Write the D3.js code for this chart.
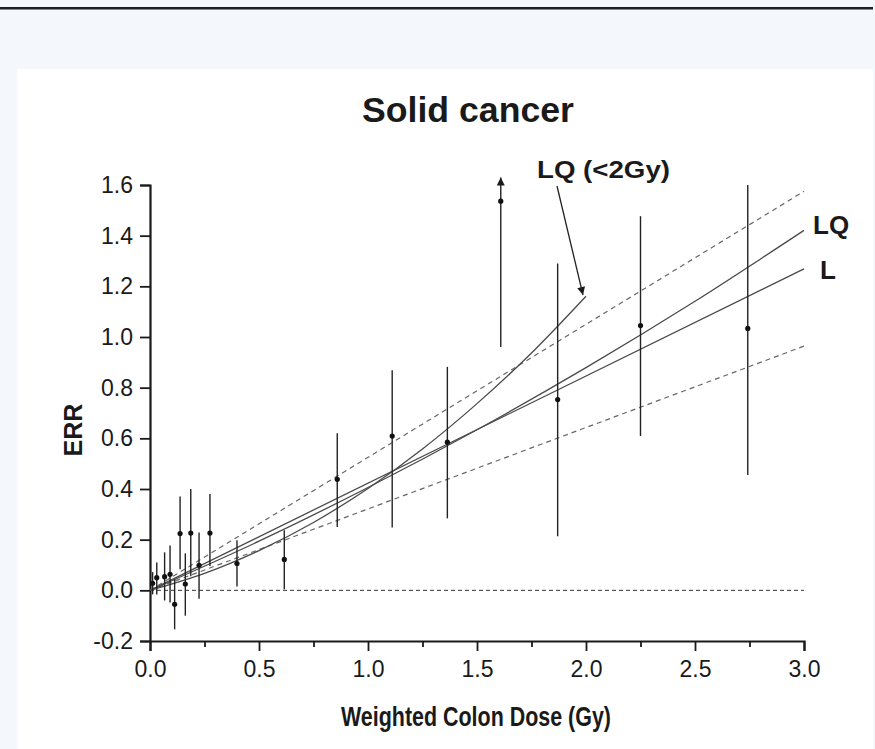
<!DOCTYPE html>
<html>
<head>
<meta charset="utf-8">
<script src="https://cdn.jsdelivr.net/npm/d3@7"></script>
<style>
  body { margin: 0; background: #f4f7fc; }
  text { font-family: "Liberation Sans", Arial, Helvetica, sans-serif; fill: #1a1a1a; }
</style>
</head>
<body>
<div id="plot"></div>
<script>
// binned data: dose (Gy), ERR, lower / upper bound
const dose  = [0.012, 0.031, 0.067, 0.092, 0.113, 0.138, 0.162, 0.187, 0.225, 0.275, 0.399, 0.616, 0.859, 1.111, 1.364, 1.609, 1.870, 2.250, 2.742];
const err   = [0.028, 0.050, 0.054, 0.063, -0.055, 0.224, 0.025, 0.226, 0.099, 0.226, 0.106, 0.122, 0.438, 0.609, 0.585, 1.536, 0.753, 1.045, 1.034];
const lower = [-0.016, -0.016, -0.040, -0.048, -0.154, 0.083, -0.100, 0.056, -0.033, 0.096, 0.015, 0.004, 0.250, 0.248, 0.284, 0.961, 0.213, 0.609, 0.455];
const upper = [0.072, 0.110, 0.150, 0.177, 0.043, 0.370, 0.146, 0.400, 0.228, 0.380, 0.198, 0.237, 0.620, 0.869, 0.882, 1.630, 1.290, 1.477, 1.600];

// fitted curves
const lDose  = [0, 3];
const lErr   = [0, 1.269];
const lqDose = [0, 0.5, 1.0, 1.5, 2.0, 2.5, 3.0];
const lqErr  = [0, 0.194, 0.406, 0.634, 0.879, 1.141, 1.421];
const lq2Dose = [0, 0.25, 0.5, 0.75, 1.0, 1.25, 1.5, 1.75, 2.0];
const lq2Err  = [0, 0.067, 0.157, 0.268, 0.402, 0.558, 0.737, 0.937, 1.161];
const ciDose  = [0, 3];
const ciUpper = [0, 1.575];
const ciLower = [0, 0.964];

const xTicks = [0, 0.5, 1.0, 1.5, 2.0, 2.5, 3.0];
const xMinor = [0.25, 0.75, 1.25, 1.75, 2.25, 2.75];
const yTicks = [-0.2, 0, 0.2, 0.4, 0.6, 0.8, 1.0, 1.2, 1.4, 1.6];

const W = 875, H = 749;
const svg = d3.select("#plot").append("svg")
  .attr("width", W).attr("height", H);

svg.append("rect").attr("width", W).attr("height", H).attr("fill", "#f4f7fc");
svg.append("rect").attr("x", 0).attr("y", 7).attr("width", 873).attr("height", 2.5).attr("fill", "#1e1e1e");
svg.append("rect").attr("x", 17).attr("y", 69).attr("width", 856).attr("height", H - 69).attr("fill", "#fff");

const defs = svg.append("defs");
defs.append("marker")
  .attr("id", "head")
  .attr("viewBox", "0 0 10 10")
  .attr("refX", 10).attr("refY", 5)
  .attr("markerWidth", 14).attr("markerHeight", 8)
  .attr("markerUnits", "userSpaceOnUse")
  .attr("orient", "auto")
  .append("path").attr("d", "M0,0 L10,5 L0,10 Z").attr("fill", "#1a1a1a");

var x = d3.scaleLinear().domain([0, 3]).range([150, 804]);
var y = d3.scaleLinear().domain([-0.2, 1.6]).range([641, 185]);

// X axis
const gx = svg.append("g")
  .attr("transform", `translate(0, ${y(-0.2)})`)
  .call(d3.axisBottom(x).tickValues(xTicks).tickFormat(d3.format(".1f")).tickSize(10).tickPadding(10));
svg.append("g")
  .attr("transform", `translate(0, ${y(-0.2)})`)
  .call(d3.axisBottom(x).tickValues(xMinor).tickFormat("").tickSize(6))
  .call(g => g.select(".domain").remove());

// Y axis
const gy = svg.append("g")
  .attr("transform", `translate(${x(0)}, 0)`)
  .call(d3.axisLeft(y).tickValues(yTicks).tickFormat(d3.format(".1f")).tickSize(10).tickPadding(7));

svg.selectAll(".domain").attr("stroke", "#1a1a1a").attr("stroke-width", 2.2);
svg.selectAll(".tick line").attr("stroke", "#1a1a1a").attr("stroke-width", 1.8);
svg.selectAll(".tick text").attr("font-size", 23).attr("fill", "#1a1a1a")
  .style("font-family", "'Liberation Sans', Arial, sans-serif");
gy.selectAll(".tick text").text(d => d < 0 ? "-" + Math.abs(d).toFixed(1) : d.toFixed(1));

// zero reference line
svg.append("line")
  .attr("x1", x(0)).attr("x2", x(3))
  .attr("y1", y(0)).attr("y2", y(0))
  .attr("stroke", "#333").attr("stroke-width", 1)
  .attr("stroke-dasharray", "4,3");

const toPts = (xs, ys) => xs.map((d, i) => [d, ys[i]]);
const line = d3.line().x(d => x(d[0])).y(d => y(d[1]));
const curve = d3.line().x(d => x(d[0])).y(d => y(d[1])).curve(d3.curveMonotoneX);

// confidence bounds
[ciUpper, ciLower].forEach(ys => {
  svg.append("path")
    .datum(toPts(ciDose, ys))
    .attr("fill", "none").attr("stroke", "#666").attr("stroke-width", 1.2)
    .attr("stroke-dasharray", "5,4")
    .attr("d", line);
});

// fits
svg.append("path").datum(toPts(lDose, lErr))
  .attr("fill", "none").attr("stroke", "#4a4a4a").attr("stroke-width", 1.3).attr("d", line);
svg.append("path").datum(toPts(lqDose, lqErr))
  .attr("fill", "none").attr("stroke", "#4a4a4a").attr("stroke-width", 1.3).attr("d", curve);
svg.append("path").datum(toPts(lq2Dose, lq2Err))
  .attr("fill", "none").attr("stroke", "#4a4a4a").attr("stroke-width", 1.3).attr("d", curve);

// error bars
const pts = dose.map((d, i) => ({d: d, v: err[i], lo: lower[i], hi: upper[i]}));
svg.append("g").selectAll("line")
  .data(pts).join("line")
  .attr("x1", p => x(p.d)).attr("x2", p => x(p.d))
  .attr("y1", p => y(p.lo)).attr("y2", p => y(p.hi))
  .attr("stroke", "#222").attr("stroke-width", 1.4)
  .attr("marker-end", p => p.hi >= 1.6 && p.d < 2 ? "url(#head)" : null);

svg.append("g").selectAll("circle")
  .data(pts).join("circle")
  .attr("cx", p => x(p.d)).attr("cy", p => y(p.v))
  .attr("r", 2.6).attr("fill", "#111");

// labels
svg.append("text")
  .attr("x", 468).attr("y", 122)
  .attr("text-anchor", "middle")
  .attr("font-size", 35).attr("font-weight", "bold")
  .attr("textLength", 212).attr("lengthAdjust", "spacingAndGlyphs")
  .text("Solid cancer");

svg.append("text")
  .attr("x", 476).attr("y", 726)
  .attr("text-anchor", "middle")
  .attr("font-size", 27).attr("font-weight", "bold")
  .attr("textLength", 270).attr("lengthAdjust", "spacingAndGlyphs")
  .text("Weighted Colon Dose (Gy)");

svg.append("text")
  .attr("transform", `translate(82, 430) rotate(-90)`)
  .attr("text-anchor", "middle")
  .attr("font-size", 25).attr("font-weight", "bold")
  .text("ERR");

svg.append("text")
  .attr("x", 537).attr("y", 178)
  .attr("font-size", 24).attr("font-weight", "bold")
  .attr("textLength", 133).attr("lengthAdjust", "spacingAndGlyphs")
  .text("LQ (<2Gy)");

svg.append("line")
  .attr("x1", 557).attr("y1", 186)
  .attr("x2", 583).attr("y2", 295)
  .attr("stroke", "#222").attr("stroke-width", 1.3)
  .attr("marker-end", "url(#head)");

svg.append("text")
  .attr("x", 813).attr("y", 234)
  .attr("font-size", 26).attr("font-weight", "bold")
  .text("LQ");
svg.append("text")
  .attr("x", 820).attr("y", 279)
  .attr("font-size", 26).attr("font-weight", "bold")
  .text("L");
</script>
</body>
</html>
